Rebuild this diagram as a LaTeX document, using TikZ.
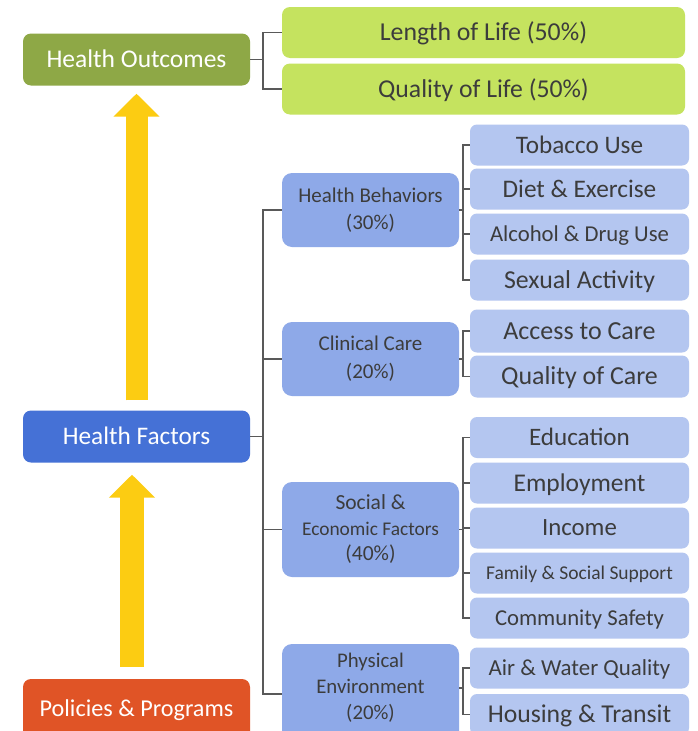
\documentclass[tikz,border=0pt]{standalone}
\usepackage{fontspec}
\setmainfont{Carlito}
\usetikzlibrary{arrows.meta,calc}
\definecolor{hoc}{RGB}{142,168,70}
\definecolor{lifec}{RGB}{197,227,95}
\definecolor{hfc}{RGB}{69,113,214}
\definecolor{ltwo}{RGB}{142,169,232}
\definecolor{lthree}{RGB}{180,198,240}
\definecolor{ppc}{RGB}{224,84,38}
\definecolor{yelc}{RGB}{252,204,18}
\definecolor{linec}{RGB}{89,89,89}
\definecolor{txtc}{RGB}{60,60,60}
\newcommand\fsz[1]{\fontsize{#1}{#1}\selectfont}
\begin{document}
\begin{tikzpicture}[x=1pt,y=-1pt,
  cfs/.style={font=\fsz{#1}, text height=0.644*#1pt, text depth=0pt},
  mainbox/.style={rounded corners=8pt, inner sep=0pt, align=center, minimum width=227pt, minimum height=52pt, text=white},
  lifebox/.style={rounded corners=8pt, inner sep=0pt, fill=lifec, text=txtc, minimum width=403pt, minimum height=51pt},
  twobox/.style={rounded corners=10pt, inner sep=0pt, fill=ltwo, text=txtc, minimum width=177pt, align=center},
  twotext/.style={inner sep=0pt, text=txtc, align=center},
  threebox/.style={rounded corners=7pt, inner sep=0pt, fill=lthree, text=txtc, minimum width=219pt, minimum height=41pt},
  conn/.style={draw=linec, line width=1.8pt},
  yarrow/.style={draw=yelc, line width=#1, -{Triangle[length=23pt,width=45pt]}},
]
\useasboundingbox (0,0) rectangle (698,731);
\fill[white] (0,0) rectangle (698,731);

% level 1
\node[mainbox, fill=hoc, cfs=25.5] (HO) at (136.5,59.5) {Health Outcomes};
\node[mainbox, fill=hfc, cfs=25.3] (HF) at (136.5,436.5) {Health Factors};
\node[mainbox, fill=ppc, cfs=24.2, minimum height=60pt] (PP) at (136.5,709) {Policies \& Programs};

% outcomes
\node[lifebox, cfs=25.8] (LL) at (483.5,32.5) {Length of Life (50\%)};
\node[lifebox, cfs=25.7] (QL) at (483.5,89) {Quality of Life (50\%)};

% level 2
\node[twobox, minimum height=74pt, font=\fontsize{21}{27}\selectfont] (HB) at (370.5,210) {Health Behaviors\\(30\%)};
\node[twobox, minimum height=74pt, font=\fontsize{21}{28}\selectfont] (CC) at (370.5,359) {Clinical Care\\(20\%)};
\node[twobox, minimum height=95pt, font=\fontsize{21.5}{25.5}\selectfont] (SE) at (370.5,529.5) {Social \&\\{\fontsize{19.4}{25.5}\selectfont Economic Factors}\\(40\%)};
\node[twobox, minimum height=100pt] (PE) at (370.5,694) {};
\node[twotext, font=\fontsize{20.8}{26}\selectfont] (PEt) at (370.5,688) {Physical\\Environment\\(20\%)};

% level 3
\node[threebox, cfs=25.2] (tob) at (579.5,145) {Tobacco Use};
\node[threebox, cfs=25.3] (diet) at (579.5,189) {Diet \& Exercise};
\node[threebox, cfs=22.7] (alc) at (579.5,234) {Alcohol \& Drug Use};
\node[threebox, cfs=25.8] (sex) at (579.5,280) {Sexual Activity};
\node[threebox, cfs=26, minimum height=43pt] (acc) at (579.5,331) {Access to Care};
\node[threebox, cfs=25.9, minimum height=42pt] (qoc) at (579.5,376.5) {Quality of Care};
\node[threebox, cfs=25.1] (edu) at (579.5,437.5) {Education};
\node[threebox, cfs=25.5] (emp) at (579.5,483) {Employment};
\node[threebox, cfs=24.8] (inc) at (579.5,528) {Income};
\node[threebox, cfs=19.5] (fam) at (579.5,573) {Family \& Social Support};
\node[threebox, cfs=22.7] (com) at (579.5,618) {Community Safety};
\node[threebox, cfs=22.9] (air) at (579.5,668) {Air \& Water Quality};
\node[threebox, cfs=25.7] (hou) at (579.5,714.5) {Housing \& Transit};

% bracket columns
\coordinate (b1) at (263,0);
\coordinate (b2) at (463,0);

% outcomes bracket
\draw[conn] (HO.east) -- (HO.east -| b1);
\draw[conn] (LL.west) -| (b1 |- QL.west) -- (QL.west);

% factors trunk
\draw[conn] (HF.east) -- (HF.east -| b1);
\draw[conn] (HB.west) -| (b1 |- PE.west) -- (PE.west);
\draw[conn] (CC.west) -- (CC.west -| b1);
\draw[conn] (SE.west) -- (SE.west -| b1);

% health behaviors
\draw[conn] (HB.east) -- (HB.east -| b2);
\draw[conn] (tob.west) -| (b2 |- sex.west) -- (sex.west);
\draw[conn] (diet.west) -- (diet.west -| b2);
\draw[conn] (alc.west) -- (alc.west -| b2);

% clinical care
\draw[conn] (CC.east) -- (CC.east -| b2);
\draw[conn] (acc.west) -| (b2 |- qoc.west) -- (qoc.west);

% social & economic
\draw[conn] (SE.east) -- (SE.east -| b2);
\draw[conn] (edu.west) -| (b2 |- com.west) -- (com.west);
\draw[conn] (emp.west) -- (emp.west -| b2);
\draw[conn] (inc.west) -- (inc.west -| b2);
\draw[conn] (fam.west) -- (fam.west -| b2);

% physical environment
\draw[conn] (PE.east |- PEt) -- (PEt -| b2);
\draw[conn] (air.west) -| (b2 |- hou.west) -- (hou.west);

% yellow arrows
\draw[yarrow=22pt, shorten <=10pt, shorten >=8pt] (HF.north) -- (HO.south);
\draw[yarrow=24pt, shorten <=12pt, shorten >=12pt] ([xshift=-4.5pt]PP.north) -- ([xshift=-4.5pt]HF.south);
\end{tikzpicture}
\end{document}
